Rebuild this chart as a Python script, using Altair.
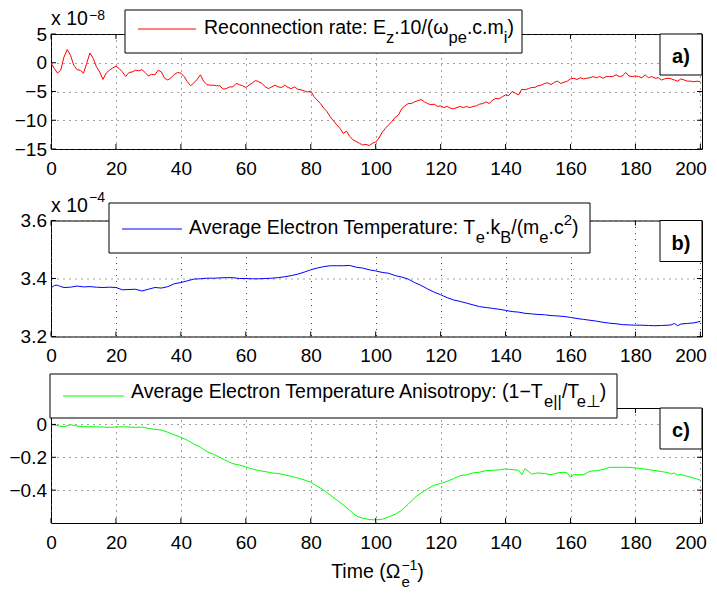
import altair as alt
import pandas as pd

FONT = "Liberation Sans"

# ---------------- data ----------------
time_a = list(range(0, 201))
rate_a = [0, -1, -1.8, -1.3, 1.0, 2.3, 1.3, -0.4, -1.2, -1.3,
          -1.8, -0.1, 1.7, 0.75, -0.7, -1.6, -2.9, -1.8, -1.3, -0.9,
          -0.6, -1.0, -1.6, -2.4, -1.7, -1.6, -1.3, -1.4, -1.2, -1.7,
          -2.3, -2.0, -2.1, -1.3, -1.6, -2.7, -3.0, -2.6, -2.0, -1.7,
          -1.8, -2.4, -3.3, -4.0, -3.5, -2.9, -2.1, -3.2, -3.8, -3.9,
          -3.9, -4.0, -4.0, -4.6, -4.5, -4.2, -4.2, -3.6, -3.8, -4.0,
          -4.3, -3.9, -3.5, -3.1, -3.3, -3.6, -4.2, -4.5, -4.2, -3.9,
          -4.2, -4.3, -3.9, -4.3, -4.5, -4.2, -4.6, -4.7, -4.9, -5.1,
          -4.9, -5.9, -6.5, -7.1, -7.9, -8.5, -9.4, -10.1, -10.8, -11.4,
          -12.3, -11.9, -12.8, -13.4, -13.7, -14.0, -14.3, -14.2, -14.4, -14.0,
          -13.8, -13.1, -12.1, -11.4, -10.8, -10.2, -9.5, -9.1, -8.0, -7.5,
          -7.1, -7.1, -6.8, -6.6, -6.4, -6.8, -7.1, -7.3, -7.2, -7.6,
          -7.5, -7.8, -7.6, -7.9, -8.0, -7.8, -7.6, -7.8, -7.6, -7.8,
          -7.6, -7.5, -7.2, -7.1, -6.8, -7.1, -6.5, -6.2, -6.3, -5.9,
          -5.6, -5.7, -5.0, -5.3, -5.6, -4.6, -4.7, -4.5, -4.3, -4.3,
          -4.0, -3.9, -3.6, -3.5, -3.8, -3.4, -3.2, -3.6, -3.4, -3.2,
          -2.8, -2.7, -2.9, -2.6, -2.8, -2.7, -2.6, -2.4, -2.6, -2.4,
          -2.7, -2.4, -2.4, -2.4, -2.1, -2.4, -2.3, -1.7, -2.3, -2.4,
          -2.3, -2.4, -2.6, -2.1, -2.6, -2.4, -2.7, -2.6, -3.0, -2.8,
          -2.7, -2.8, -3.0, -3.2, -2.8, -3.0, -3.2, -3.2, -3.3, -3.2,
          -3.3]

time_b = [0, 1, 2, 3, 4, 6, 8, 10, 12, 14, 16, 18, 20, 22, 24, 26, 28, 30,
          32, 34, 36, 38, 40, 42, 44, 46, 48, 50, 52, 54, 56, 58, 60, 62,
          64, 66, 68, 70, 72, 74, 76, 78, 80, 82, 84, 86, 88, 90, 92, 94,
          96, 98, 100, 102, 104, 106, 108, 110, 112, 114, 116, 118, 120,
          122, 124, 126, 128, 130, 132, 134, 136, 138, 140, 142, 144, 146,
          148, 150, 152, 154, 156, 158, 160, 162, 164, 166, 168, 170, 172,
          174, 176, 178, 180, 182, 184, 186, 188, 190, 191, 192, 193, 194,
          196, 198, 200]
temp_b = [3.367, 3.376, 3.377, 3.372, 3.369, 3.370, 3.374, 3.371, 3.372,
          3.370, 3.369, 3.370, 3.369, 3.361, 3.362, 3.363, 3.357, 3.363,
          3.369, 3.367, 3.372, 3.382, 3.386, 3.392, 3.398, 3.399, 3.401,
          3.401, 3.402, 3.403, 3.403, 3.400, 3.400, 3.399, 3.399, 3.400,
          3.401, 3.403, 3.406, 3.410, 3.415, 3.422, 3.430, 3.436, 3.441,
          3.444, 3.444, 3.444, 3.445, 3.439, 3.436, 3.430, 3.426, 3.421,
          3.418, 3.410, 3.405, 3.398, 3.386, 3.376, 3.364, 3.353, 3.344,
          3.334, 3.326, 3.321, 3.315, 3.309, 3.303, 3.300, 3.297, 3.294,
          3.290, 3.286, 3.284, 3.280, 3.278, 3.276, 3.275, 3.272, 3.271,
          3.269, 3.266, 3.262, 3.259, 3.256, 3.253, 3.249, 3.246, 3.244,
          3.241, 3.240, 3.239, 3.239, 3.238, 3.237, 3.238, 3.239, 3.240,
          3.245, 3.237, 3.243, 3.245, 3.247, 3.252]

time_c = [0, 2, 4, 6, 8, 10, 14, 18, 22, 26, 28, 30, 32, 34, 36, 38, 40,
          42, 44, 46, 48, 50, 52, 54, 56, 58, 60, 62, 64, 66, 68, 70, 72,
          74, 76, 78, 80, 82, 84, 86, 88, 90, 92, 94, 96, 98, 100, 102, 104,
          106, 108, 110, 112, 114, 116, 118, 120, 122, 124, 126, 128, 130,
          132, 134, 136, 138, 140, 142, 144, 145, 146, 147, 148, 150, 152,
          154, 156, 158, 159, 160, 161, 162, 164, 166, 168, 170, 172, 174,
          176, 178, 180, 182, 184, 186, 188, 190, 191, 192, 193, 194, 196,
          198, 200]
aniso_c = [0.0, -0.008, -0.014, -0.002, -0.010, -0.014, -0.014, -0.018,
           -0.014, -0.018, -0.016, -0.024, -0.030, -0.034, -0.048, -0.064,
           -0.078, -0.096, -0.119, -0.139, -0.165, -0.181, -0.201, -0.221,
           -0.239, -0.247, -0.259, -0.271, -0.281, -0.287, -0.295, -0.299,
           -0.307, -0.316, -0.326, -0.338, -0.352, -0.376, -0.400, -0.430,
           -0.460, -0.490, -0.523, -0.557, -0.571, -0.579, -0.581, -0.577,
           -0.563, -0.547, -0.523, -0.486, -0.446, -0.416, -0.392, -0.370,
           -0.360, -0.346, -0.330, -0.312, -0.306, -0.295, -0.291, -0.281,
           -0.279, -0.277, -0.271, -0.275, -0.279, -0.306, -0.269, -0.285,
           -0.302, -0.295, -0.299, -0.306, -0.295, -0.291, -0.295, -0.322,
           -0.306, -0.306, -0.306, -0.285, -0.281, -0.275, -0.261, -0.261,
           -0.261, -0.261, -0.265, -0.269, -0.275, -0.281, -0.287, -0.293,
           -0.302, -0.296, -0.309, -0.304, -0.316, -0.326, -0.340]

x_ticks = [0, 20, 40, 60, 80, 100, 120, 140, 160, 180, 200]
yticks_a = [-15, -10, -5, 0, 5]
yticks_b = [3.2, 3.4, 3.6]
yticks_c = [-0.4, -0.2, 0]

legend_a = [("Reconnection rate: E", "n"), ("z", "sub"), (".10/(ω", "n"),
            ("pe", "sub"), (".c.m", "n"), ("i", "sub"), (")", "n")]
legend_b = [("Average Electron Temperature: T", "n"), ("e", "sub"), (".k", "n"),
            ("B", "sub"), ("/(m", "n"), ("e", "sub"), (".c", "n"), ("2", "sup"),
            (")", "n")]
legend_c = [("Average Electron Temperature Anisotropy: (1−T", "n"), ("e||", "sub"),
            ("/T", "n"), ("e⊥", "sub"), (")", "n")]
x_title = [("Time (Ω", "n"), ("e", "substay"), ("−1", "sup"), (")", "n")]

# ---------------- layout / style ----------------
W = 651
X_DOMAIN = [0, 200.5]
LEG_FS = 19.5
SUB_FS = 16.5
SUP_FS = 15

CHAR_W = {' ': 278, '(': 333, ')': 333, '.': 278, '/': 278, ':': 278, '−': 584,
          '|': 260, 'A': 667, 'B': 667, 'E': 667, 'R': 722, 'T': 611,
          'a': 556, 'c': 500, 'e': 556, 'g': 556, 'i': 222, 'k': 500, 'l': 222,
          'm': 833, 'n': 556, 'o': 556, 'p': 556, 'r': 333, 's': 500, 't': 278,
          'u': 556, 'v': 500, 'y': 500, 'z': 500, 'x': 500, 'ω': 781, 'Ω': 768,
          '⊥': 838}


def text_w(s, fs):
    return sum(CHAR_W.get(ch, 556) for ch in s) * fs / 1000.0


def seg_width(segments, fs, sub_fs=SUB_FS, sup_fs=SUP_FS):
    total = 0
    for txt, kind in segments:
        if kind == "n":
            total += text_w(txt, fs)
        elif kind == "sub":
            total += text_w(txt, sub_fs)
        elif kind == "sup":
            total += text_w(txt, sup_fs)
    return total


def txt_mark(txt, x, y_base, size, weight="normal", align="left"):
    # baseline "top" keeps the text bounds tight; place the glyph baseline at y_base
    return alt.Chart().mark_text(
        text=txt, font=FONT, fontSize=size, align=align, baseline="top",
        color="black", fontWeight=weight
    ).encode(x=alt.value(x), y=alt.value(y_base - round(0.79 * size)))


def rich(segments, x0, y0, fs, sub_dy=9, sup_dy=-9, sub_fs=SUB_FS, sup_fs=SUP_FS):
    layers = []
    x = x0
    prev = ""
    for txt, kind in segments:
        if kind == "n":
            size, dy, adv = fs, 0, True
        elif kind == "sub":
            size, dy, adv = sub_fs, sub_dy, True
        elif kind == "substay":
            size, dy, adv = sub_fs, sub_dy, False
        else:
            size, dy, adv = sup_fs, sup_dy, True
        if kind in ("sub", "substay") and prev.endswith("T"):
            x -= 2.5
        layers.append(txt_mark(txt, x + 1, y0 + dy, size))
        if adv:
            x += text_w(txt, size)
        prev = txt
    return layers


def panel(time, vals, color, y_domain, y_ticks, height, leg, label, exponent):
    xs = alt.Scale(domain=X_DOMAIN, nice=False, zero=False)
    ys = alt.Scale(domain=y_domain, nice=False, zero=False)
    X = alt.X("t:Q", scale=xs, axis=alt.Axis(
        values=x_ticks, title=None,
        labelAlign={"condition": {"test": "datum.value >= 200", "value": "right"},
                    "value": "center"},
        labelOffset={"condition": {"test": "datum.value >= 200", "value": 6},
                     "value": 0}))
    Y = alt.Y("v:Q", scale=ys, axis=alt.Axis(values=y_ticks, title=None, format="~g"))

    df = pd.DataFrame({"t": time, "v": vals})
    line = alt.Chart(df).mark_line(color=color, strokeWidth=1).encode(x=X, y=Y)

    xt = pd.DataFrame({"t": x_ticks})
    yt = pd.DataFrame({"v": y_ticks})
    tl = 5
    ticks = [
        alt.Chart(xt).mark_rule(color="black", strokeWidth=1).encode(
            x=X, y=alt.value(height - tl), y2=alt.value(height)),
        alt.Chart(xt).mark_rule(color="black", strokeWidth=1).encode(
            x=X, y=alt.value(0), y2=alt.value(tl)),
        alt.Chart(yt).mark_rule(color="black", strokeWidth=1).encode(
            y=Y, x=alt.value(0), x2=alt.value(tl)),
        alt.Chart(yt).mark_rule(color="black", strokeWidth=1).encode(
            y=Y, x=alt.value(W - tl), x2=alt.value(W)),
    ]

    bx0, bx1, by0, by1, lx0, lx1, ly, tx, ty = leg["geom"]
    box = alt.Chart().mark_rect(fill="white", stroke="black", strokeWidth=1).encode(
        x=alt.value(bx0), x2=alt.value(bx1), y=alt.value(by0), y2=alt.value(by1))
    sample = alt.Chart().mark_rule(color=color, strokeWidth=1).encode(
        x=alt.value(lx0), x2=alt.value(lx1), y=alt.value(ly))
    texts = rich(leg["segments"], tx, ty, LEG_FS, sub_dy=leg["sub_dy"],
                 sup_dy=leg["sup_dy"])

    lab_box = alt.Chart().mark_rect(fill="white", stroke="black", strokeWidth=1).encode(
        x=alt.value(W - 42), x2=alt.value(W), y=alt.value(0), y2=alt.value(41))
    lab_txt = txt_mark(label, W - 21, 29, 20, weight="bold", align="center")

    layers = [line] + ticks + [box, sample] + texts + [lab_box, lab_txt]
    if exponent is not None:
        exp_txt, base_y, sup_y = exponent
        layers.append(txt_mark("x 10", 0, base_y, 19.5))
        layers.append(txt_mark(exp_txt, 38, sup_y, 14))
    return alt.layer(*layers).properties(width=W, height=height)


H_A, H_B, H_C = 115, 116, 115
GAP = 71.5

pa = panel(time_a, rate_a, "#ff0000", [-15, 5], yticks_a, H_A,
           {"segments": legend_a, "geom": (74, 471, -24, 19, 87, 145, -5, 152, 0),
            "sub_dy": 9, "sup_dy": -9},
           "a)", ("−8", -9.5, -14))
pb = panel(time_b, temp_b, "#0000ff", [3.2, 3.6], yticks_b, H_B,
           {"segments": legend_b, "geom": (58, 539, -17.5, 32.5, 71, 131, 8.5, 137, 13.5),
            "sub_dy": 9, "sup_dy": -9},
           "b)", ("−4", -9, -18.5))

# x-axis title under the bottom panel, centred on the plot
title_w = seg_width(x_title, 19.5, sub_fs=15, sup_fs=14)
pc_layers_extra = rich(x_title, W / 2 - title_w / 2, H_C + 55, 19.5,
                       sub_dy=8.5, sup_dy=-8.5, sub_fs=15, sup_fs=14)
pc = panel(time_c, aniso_c, "#00ff00", [-0.6, 0.1], yticks_c, H_C,
           {"segments": legend_c, "geom": (-1, 566, -34, 10, 12, 73, -12, 79, -10),
            "sub_dy": 9, "sup_dy": -9},
           "c)", None)
pc = alt.layer(pc, *pc_layers_extra)

chart = alt.vconcat(pa, pb, pc, spacing=GAP, bounds="flush").properties(
    padding=0
).configure_view(
    stroke="black", strokeWidth=1
).configure_axis(
    labelFont=FONT, labelFontSize=19, labelColor="black", grid=True,
    gridColor="#444444", gridDash=[1, 5], gridWidth=1, ticks=False, tickSize=0,
    domain=False, labelFlush=False
).configure_axisX(
    labelPadding=10
).configure_axisY(
    labelPadding=4.5
)

chart.save("out.html", embed_options={"renderer": "svg", "actions": False})
